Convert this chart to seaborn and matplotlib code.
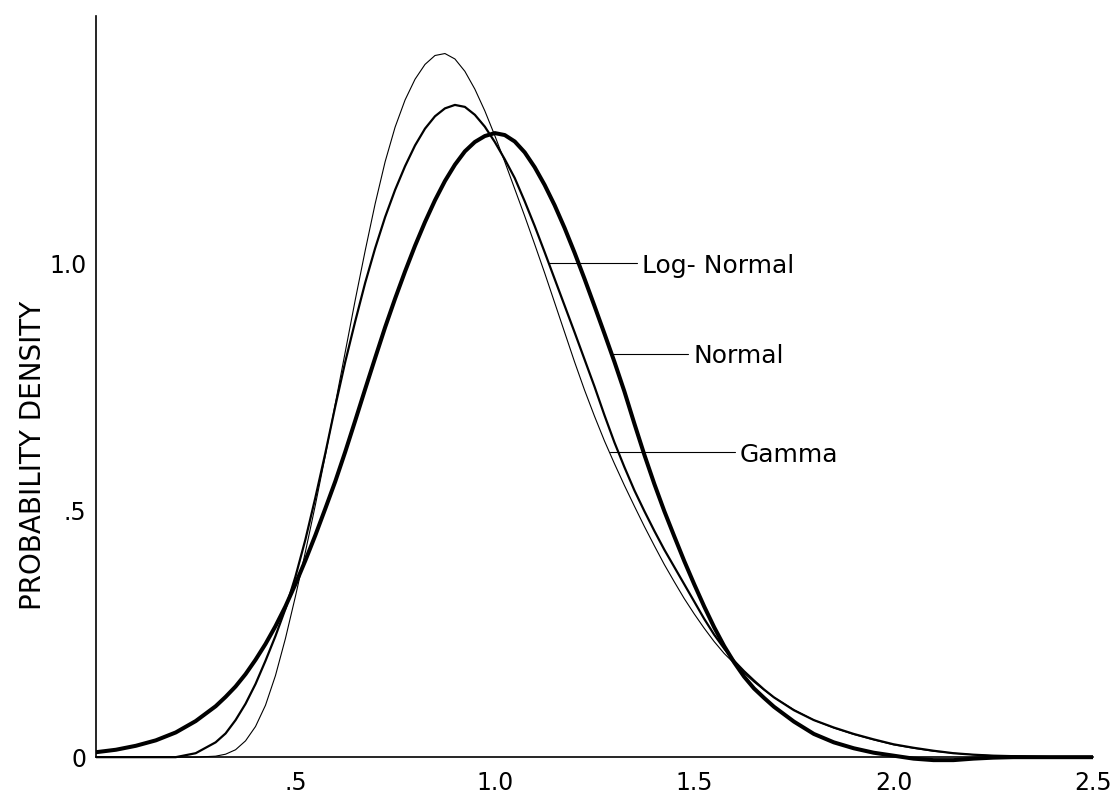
import pandas as pd
import seaborn as sns
import matplotlib.pyplot as plt

# x grid: coarse in the tails, finer around the peaks
x_vals = ([round(i * 0.05, 3) for i in range(7)]
          + [round(0.325 + i * 0.025, 3) for i in range(56)]
          + [round(1.75 + i * 0.05, 3) for i in range(16)])

# thick curve
normal = [0.010, 0.015, 0.023, 0.034, 0.050, 0.073, 0.103,
          0.122, 0.143, 0.168, 0.197, 0.229, 0.265, 0.305, 0.350,
          0.398, 0.449, 0.503, 0.558, 0.618, 0.681, 0.745, 0.808,
          0.870, 0.928, 0.983, 1.035, 1.083, 1.127, 1.166, 1.199,
          1.226, 1.245, 1.257, 1.263, 1.259, 1.246, 1.224, 1.194,
          1.158, 1.117, 1.071, 1.021, 0.968, 0.913, 0.857, 0.800,
          0.740, 0.675, 0.612, 0.553, 0.498, 0.447, 0.397, 0.350,
          0.305, 0.263, 0.225, 0.192, 0.163, 0.139, 0.120, 0.102,
          0.072, 0.047, 0.030, 0.018, 0.009, 0.003, -0.003, -0.006,
          -0.006, -0.003, -0.001, 0.000, 0.000, 0.000, 0.000, 0.000]

# medium curve
log_normal = [0.000, 0.000, 0.000, 0.000, 0.000, 0.008, 0.030,
              0.048, 0.075, 0.108, 0.148, 0.195, 0.245, 0.300, 0.365,
              0.440, 0.525, 0.615, 0.710, 0.800, 0.882, 0.960, 1.030,
              1.093, 1.148, 1.196, 1.238, 1.272, 1.297, 1.313, 1.320,
              1.316, 1.300, 1.276, 1.245, 1.210, 1.172, 1.125, 1.075,
              1.022, 0.968, 0.914, 0.860, 0.805, 0.750, 0.692, 0.637,
              0.587, 0.540, 0.498, 0.458, 0.420, 0.385, 0.350, 0.315,
              0.280, 0.248, 0.220, 0.195, 0.174, 0.155, 0.137, 0.121,
              0.095, 0.075, 0.060, 0.047, 0.036, 0.026, 0.019, 0.013,
              0.008, 0.005, 0.003, 0.002, 0.001, 0.000, 0.000, 0.000]

# thin curve
gamma = [0.000, 0.000, 0.000, 0.000, 0.000, 0.000, 0.002,
         0.006, 0.015, 0.033, 0.062, 0.105, 0.165, 0.240, 0.325,
         0.415, 0.510, 0.610, 0.715, 0.820, 0.925, 1.025, 1.120,
         1.205, 1.275, 1.330, 1.372, 1.402, 1.420, 1.424, 1.413,
         1.388, 1.352, 1.308, 1.258, 1.205, 1.150, 1.095, 1.038,
         0.980, 0.920, 0.860, 0.800, 0.743, 0.690, 0.640, 0.594,
         0.550, 0.508, 0.467, 0.428, 0.390, 0.355, 0.321, 0.290,
         0.261, 0.234, 0.210, 0.190, 0.170, 0.152, 0.136, 0.121,
         0.096, 0.075, 0.059, 0.046, 0.035, 0.025, 0.018, 0.012,
         0.008, 0.005, 0.003, 0.002, 0.001, 0.000, 0.000, 0.000]

x_ticks = [0.5, 1.0, 1.5, 2.0, 2.5]
x_tick_labels = [".5", "1.0", "1.5", "2.0", "2.5"]
y_ticks = [0, 0.5, 1.0]
y_tick_labels = ["0", ".5", "1.0"]

df = pd.DataFrame({"x": x_vals, "Normal": normal,
                   "Log-Normal": log_normal, "Gamma": gamma})

sns.set_style("white")
plt.rcParams['font.family'] = ['DejaVu Sans']
plt.rcParams['text.color'] = 'black'
plt.rcParams['axes.labelcolor'] = 'black'
plt.rcParams['xtick.color'] = 'black'
plt.rcParams['ytick.color'] = 'black'

fig = plt.figure(figsize=(11.2, 7.99), dpi=100)
ax = fig.add_axes([0.0857, 0.040, 0.8902, 0.940])

# line weights: normal thick, log-normal medium, gamma thin
sns.lineplot(data=df, x="x", y="Gamma", color="black", linewidth=0.8, ax=ax)
sns.lineplot(data=df, x="x", y="Log-Normal", color="black", linewidth=1.6, ax=ax)
sns.lineplot(data=df, x="x", y="Normal", color="black", linewidth=2.9, ax=ax)
for line in ax.lines:
    line.set_solid_joinstyle("round")

ax.set_xlim(0, 2.5)
ax.set_ylim(-0.02, 1.5)

for s in ["top", "right"]:
    ax.spines[s].set_visible(False)
ax.spines["bottom"].set_position(("data", 0))
ax.spines["bottom"].set_bounds(0, 2.5)
ax.spines["left"].set_bounds(0, 1.5)
for s in ["bottom", "left"]:
    ax.spines[s].set_linewidth(1.2)
    ax.spines[s].set_color("black")

ax.set_xticks(x_ticks)
ax.set_xticklabels(x_tick_labels, fontsize=17)
ax.set_yticks(y_ticks)
ax.set_yticklabels(y_tick_labels, fontsize=17)
ax.tick_params(axis="x", direction="in", length=15, width=1.2, pad=10)
ax.tick_params(axis="y", direction="in", length=14, width=1.2, pad=7)
ax.yaxis.get_major_ticks()[0].tick1line.set_visible(False)

ax.set_xlabel("")
ax.set_ylabel("PROBABILITY DENSITY", fontsize=20)
ax.yaxis.set_label_coords(-0.049, 0.415)

# leader lines and curve names
labels = [("Log- Normal", 1.133, 1.356, 1.0),
          ("Normal", 1.293, 1.484, 0.816),
          ("Gamma", 1.288, 1.602, 0.617)]
for name, x0, x1, y in labels:
    ax.plot([x0, x1], [y, y], color="black", linewidth=0.8)
    ax.text(x1 + 0.013, y, name, fontsize=18, ha="left", va="center_baseline")

fig.savefig("out.png", dpi=100)
